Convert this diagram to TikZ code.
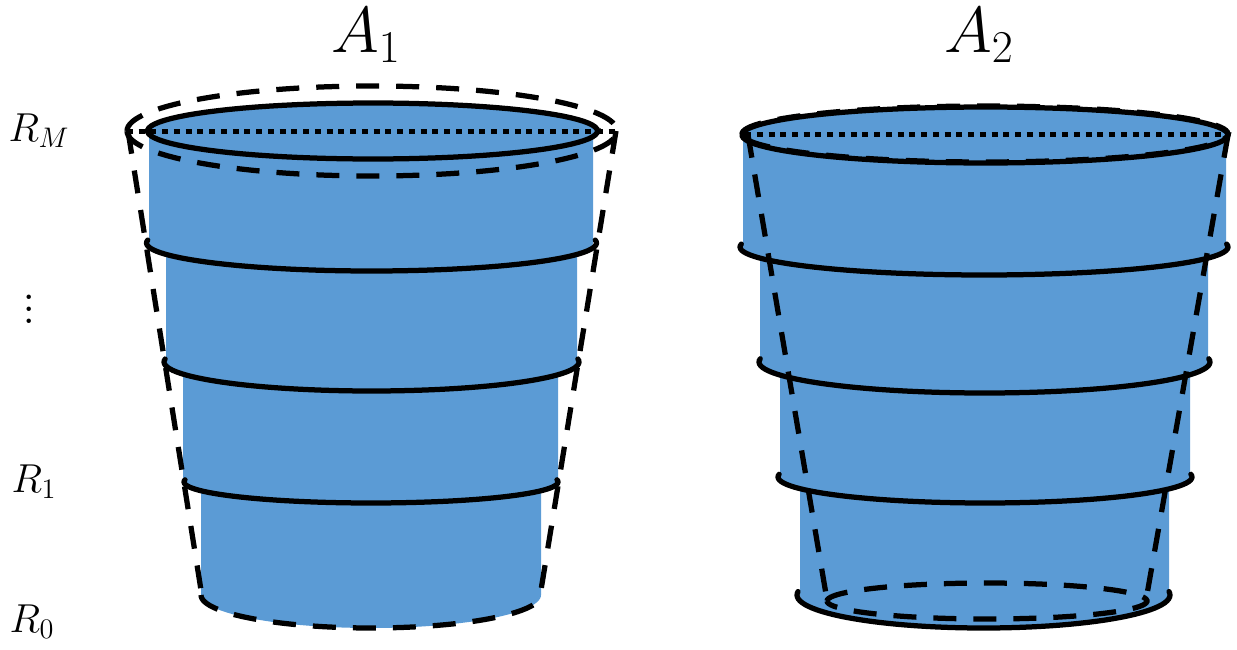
\documentclass[tikz,border=0pt]{standalone}
\usepackage{fix-cm}
\definecolor{cupblue}{HTML}{5B9BD5}
\tikzset{
  cupfill/.style={fill=cupblue},
  rimline/.style={line width=0.105cm},
  dashline/.style={line width=0.105cm,dash pattern=on 0.46cm off 0.34cm},
  dotline/.style={line width=0.11cm,dash pattern=on 0.12cm off 0.115cm},
  radiuslabel/.style={font=\fontsize{23}{28}\selectfont},
  titlelabel/.style={font=\fontsize{37}{44}\selectfont}
}
\begin{document}
\begin{tikzpicture}[x=0.02cm,y=-0.02cm]
\useasboundingbox (0,0) rectangle (1237,649);
% blue bands, left cup then right cup
\foreach \cx/\rx/\ytop/\cy/\ry in {371/222/131/243/28,371.5/205.5/243/362/29,370.5/187.5/362/482/21,371/170/482/595/33,
  984.5/241.5/135/247/28,984/224/247/362/31,985/205/362/477/26,984.5/184.5/477/595/33}
  \fill[cupfill] ({\cx-\rx},\ytop) -- plot[domain=180:0,samples=60] ({\cx+\rx*cos(\x)},{\cy+\ry*sin(\x)}) -- ({\cx+\rx},\ytop) -- cycle;
\fill[cupfill] plot[domain=0:360,samples=90] ({372.5+225*cos(\x)},{131+28*sin(\x)});
\fill[cupfill] plot[domain=0:360,samples=90] ({985+243*cos(\x)},{135+28*sin(\x)});
% front arcs
\foreach \cx/\rx/\cy/\ry in {371.5/225/243/28,371.5/207.5/362/29,371/187/482/21,
  984/244/247/28,984.5/225.5/362/31,985/207/477/26,983.5/186.5/595/33}
  \draw[rimline,line cap=round] plot[domain=-6:186,samples=60] ({\cx+\rx*cos(\x)},{\cy+\ry*sin(\x)});
% top rims
\draw[rimline] plot[domain=0:360,samples=90] ({372.5+225*cos(\x)},{131+28*sin(\x)}) -- cycle;
\draw[rimline] plot[domain=0:360,samples=90] ({985+243*cos(\x)},{135+28*sin(\x)}) -- cycle;
\draw[dotline] (127,131.5) -- (617,131.5);
\draw[dotline] (745,134.5) -- (1225,134.5);
% truncated cone outlines
\draw[dashline] plot[domain=180:540,samples=120] ({372+245*cos(\x)},{131+45*sin(\x)});
\draw[dashline] (128,131) -- (201,590);
\draw[dashline] (616,131) -- (541,590);
\draw[dashline] plot[domain=180:0,samples=60] ({371+170*cos(\x)},{595+33*sin(\x)});
\draw[dashline] plot[domain=180:540,samples=120] ({985+243*cos(\x)},{134+28*sin(\x)});
\draw[dashline] (748,135) -- (827,600);
\draw[dashline] (1228,135) -- (1146,600);
\draw[dashline] plot[domain=180:540,samples=90] ({987+160*cos(\x)},{601+18*sin(\x)});
% labels
\node[titlelabel] (titleA) at (366,35) {$A_1$};
\node[titlelabel] (titleB) at (979,35) {$A_2$};
\node[radiuslabel] (radiusM) at (39,131) {$R_M$};
\node[scale=1.7,font=\fontsize{18}{22}\selectfont] (radiusdots) at (29,300) {$\vdots$};
\node[radiuslabel] (radiusone) at (34,482) {$R_1$};
\node[radiuslabel] (radiuszero) at (32,622) {$R_0$};
\end{tikzpicture}
\end{document}
